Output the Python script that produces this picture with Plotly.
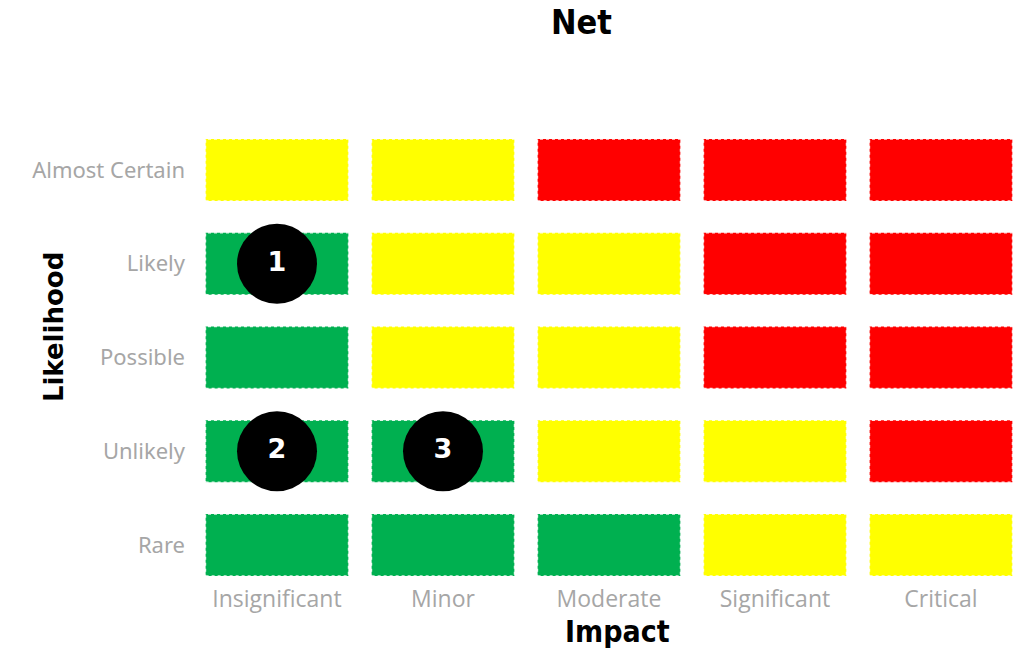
import plotly.graph_objects as go

impact_labels = ["Insignificant", "Minor", "Moderate", "Significant", "Critical"]
likelihood_labels = ["Rare", "Unlikely", "Possible", "Likely", "Almost Certain"]

# risk level per cell, rows from Rare (bottom) to Almost Certain (top)
risk_levels = [
    ["Low", "Low", "Low", "Medium", "Medium"],
    ["Low", "Low", "Medium", "Medium", "High"],
    ["Low", "Medium", "Medium", "High", "High"],
    ["Low", "Medium", "Medium", "High", "High"],
    ["Medium", "Medium", "High", "High", "High"],
]

risk_ids = ["1", "2", "3"]
risk_impact = ["Insignificant", "Insignificant", "Minor"]
risk_likelihood = ["Likely", "Unlikely", "Unlikely"]

level_colors = {"Low": "#00B050", "Medium": "#FFFF00", "High": "#FF0000"}

fig = go.Figure()

cell_w = 0.43
cell_h = 0.33
shapes = []
for r, row in enumerate(risk_levels):
    for c, lvl in enumerate(row):
        shapes.append(dict(
            type="rect", xref="x", yref="y",
            x0=c - cell_w, x1=c + cell_w, y0=r - cell_h, y1=r + cell_h,
            fillcolor=level_colors[lvl],
            line=dict(color="rgba(255,255,255,0.85)", width=1.2, dash="dot"),
            layer="below",
        ))

fig.add_trace(go.Scatter(
    x=[impact_labels.index(v) for v in risk_impact],
    y=[likelihood_labels.index(v) for v in risk_likelihood],
    mode="markers+text",
    text=risk_ids,
    textposition="middle center",
    textfont=dict(family="DejaVu Sans", size=27, color="white", weight="bold"),
    marker=dict(size=80, color="black", line=dict(width=0)),
    hoverinfo="text",
    showlegend=False,
))

title_font = "Liberation Sans Narrow, DejaVu Sans Condensed, Open Sans"

fig.update_layout(
    width=1014, height=650,
    margin=dict(l=194, r=0, t=130, b=71),
    paper_bgcolor="white", plot_bgcolor="white",
    shapes=shapes,
    showlegend=False,
    xaxis=dict(
        range=[-0.5, 4.44], tickmode="array",
        tickvals=list(range(len(impact_labels))), ticktext=impact_labels,
        showgrid=False, zeroline=False, showline=False, ticks="",
        tickfont=dict(family="Open Sans", size=23, color="#a6a6a6"),
        ticklabelstandoff=4,
        fixedrange=True,
    ),
    yaxis=dict(
        range=[-0.363, 4.427], tickmode="array",
        tickvals=list(range(len(likelihood_labels))), ticktext=likelihood_labels,
        showgrid=False, zeroline=False, showline=False, ticks="",
        tickfont=dict(family="Noto Sans", size=22, color="#a6a6a6"),
        ticklabelstandoff=8,
        fixedrange=True,
    ),
    annotations=[
        dict(text="<b>Net</b>", xref="paper", yref="paper", x=0.472, y=1.0,
             yshift=108, showarrow=False, xanchor="center", yanchor="middle",
             font=dict(family=title_font, size=34, color="black")),
        dict(text="<b>Impact</b>", xref="paper", yref="paper", x=0.516, y=0,
             yshift=-52, showarrow=False, xanchor="center", yanchor="middle",
             font=dict(family=title_font, size=30, color="black")),
        dict(text="<b>Likelihood</b>", xref="paper", yref="paper", x=0, y=0.561,
             xshift=-140, showarrow=False, xanchor="center", yanchor="middle",
             textangle=-90,
             font=dict(family="DejaVu Sans", size=26, color="black")),
    ],
)

fig.write_html("out.html", config={"displayModeBar": False},
               post_script="document.body.style.margin='0';")
